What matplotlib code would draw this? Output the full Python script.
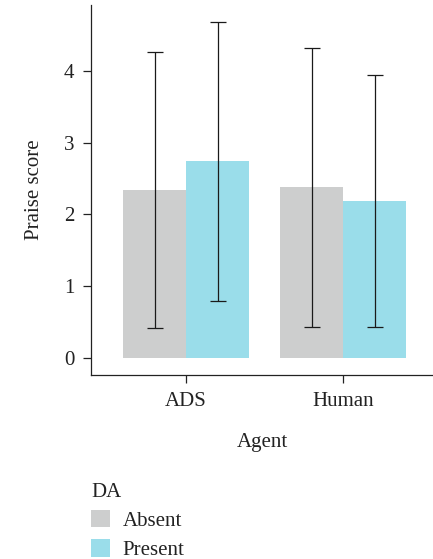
import numpy as np
from matplotlib import pyplot as plt
from matplotlib.patches import Patch

plt.rcParams['font.family'] = ['Liberation Serif', 'DejaVu Serif']
plt.rcParams['text.color'] = '#222222'
plt.rcParams['axes.labelcolor'] = '#222222'
plt.rcParams['xtick.color'] = '#222222'
plt.rcParams['ytick.color'] = '#222222'

agents = ['ADS', 'Human']
da_levels = ['Absent', 'Present']
means = {'Absent': [2.34, 2.38], 'Present': [2.74, 2.19]}
err_low = {'Absent': [0.41, 0.43], 'Present': [0.80, 0.43]}
err_high = {'Absent': [4.26, 4.32], 'Present': [4.68, 3.95]}
colors = {'Absent': '#cdcece', 'Present': '#9addea'}

fig = plt.figure(figsize=(4.33, 5.59), dpi=100)
ax = fig.add_axes([0.210, 0.329, 0.79, 0.662])

x = np.arange(len(agents))
w = 0.4
for i, lvl in enumerate(da_levels):
    pos = x + (i - 0.5) * w
    m = np.array(means[lvl])
    ax.bar(pos, m, width=w, color=colors[lvl], linewidth=0, zorder=1)
    lo = m - np.array(err_low[lvl])
    hi = np.array(err_high[lvl]) - m
    ax.errorbar(pos, m, yerr=[lo, hi], fmt='none', ecolor='#1a1a1a',
                elinewidth=0.9, capsize=5.8, capthick=0.9, zorder=2)

ax.set_xlim(-0.605, 1.57)
ax.set_ylim(-0.24, 4.92)
ax.set_xticks(x)
ax.set_xticklabels(agents)
ax.set_yticks([0, 1, 2, 3, 4])
ax.tick_params(labelsize=15, length=6, width=0.9, pad=6)
for s in ['top', 'right']:
    ax.spines[s].set_visible(False)
for s in ['left', 'bottom']:
    ax.spines[s].set_linewidth(0.9)
    ax.spines[s].set_color('#222222')
ax.set_ylabel('Praise score', fontsize=15, labelpad=14)
ax.set_xlabel('Agent', fontsize=15, labelpad=16)

handles = [Patch(facecolor=colors[l], edgecolor='none') for l in da_levels]
leg = fig.legend(handles, da_levels, title='DA', loc='upper left',
                 bbox_to_anchor=(0.167, 0.170), frameon=False, fontsize=15,
                 title_fontsize=15, alignment='left', handlelength=0.9,
                 handleheight=0.9, handletextpad=0.6, labelspacing=0.4)

fig.savefig('out.png', dpi=100)
